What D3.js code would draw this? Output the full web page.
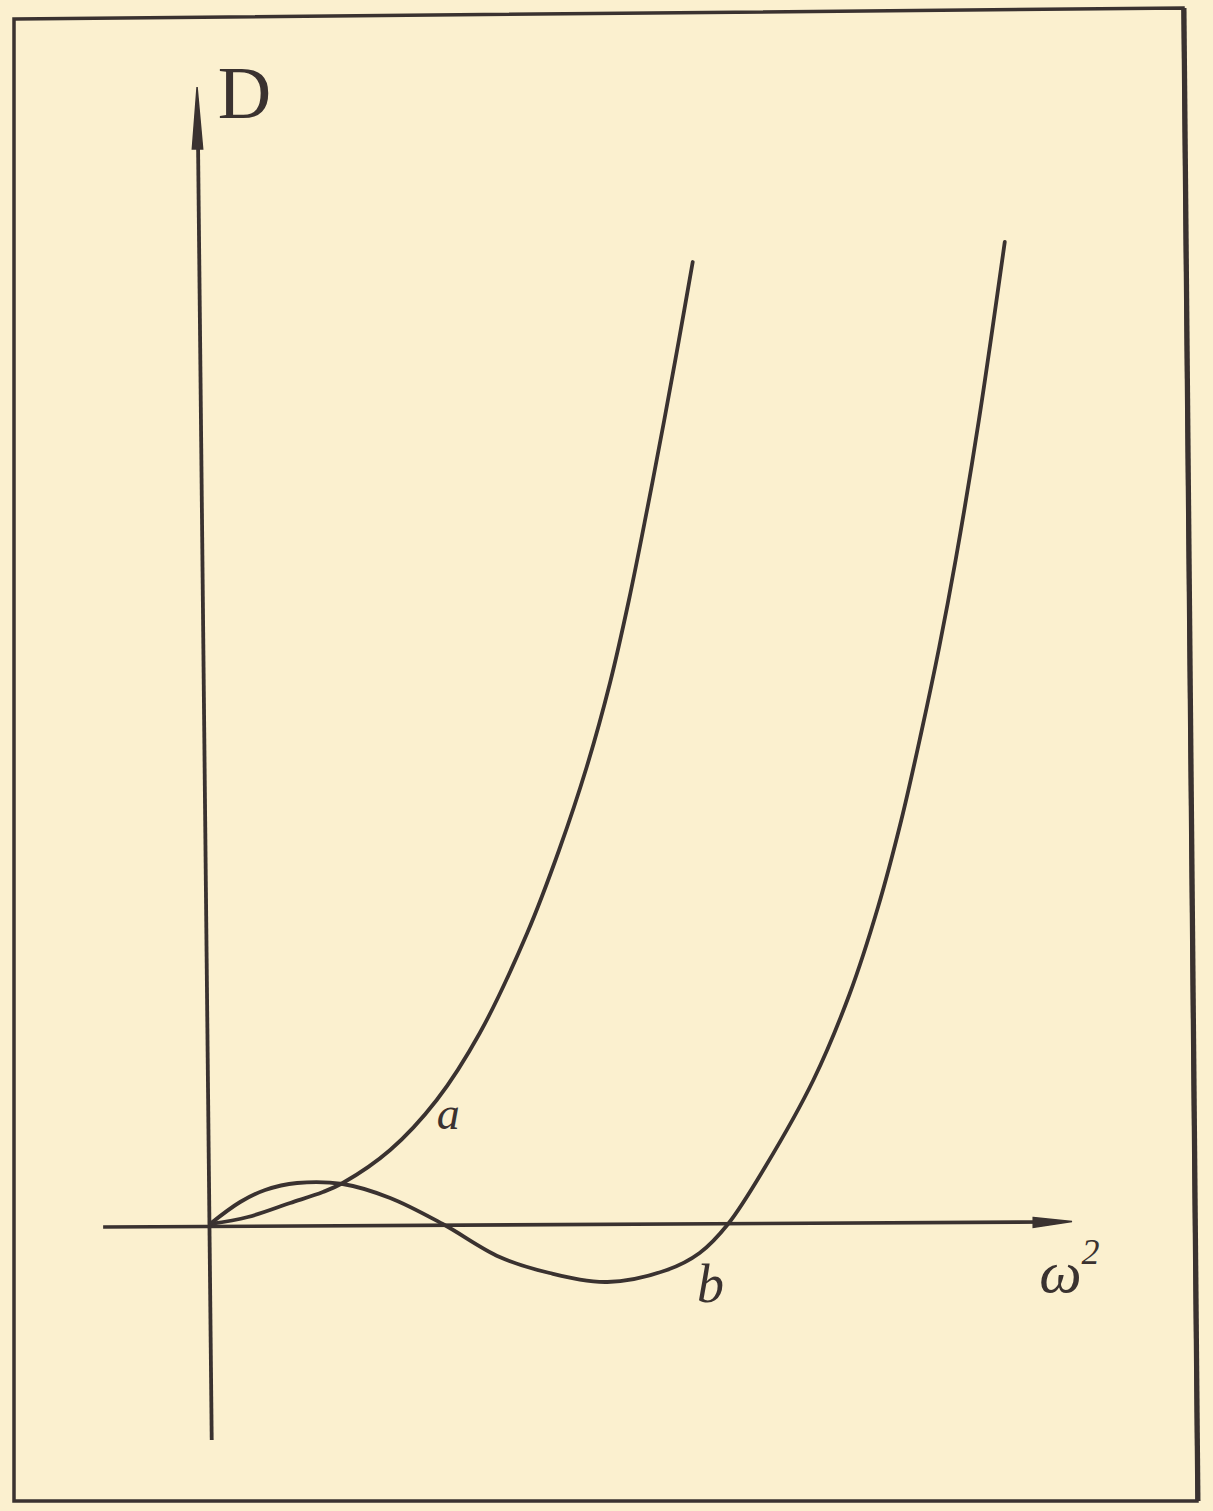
<!DOCTYPE html>
<html>
<head>
<meta charset="utf-8">
<script src="https://cdn.jsdelivr.net/npm/d3@7"></script>
<style>
  html, body { margin: 0; padding: 0; background: #fbf0cf; }
  svg { display: block; }
</style>
</head>
<body>
<script>
// ---- Data (x = ω², y = D, arbitrary units) ----
const curveAX = [0, 0.44, 0.93, 1.31, 1.54, 2.09, 2.63, 3.13, 3.68, 4.05, 4.37, 4.64, 4.86, 5.07, 5.27, 5.44, 5.60];
const curveAY = [0, 0.07, 0.21, 0.32, 0.41, 0.74, 1.24, 1.91, 2.91, 3.74, 4.57, 5.41, 6.24, 7.14, 8.04, 8.84, 9.62];

const curveBX = [0, 0.35, 0.64, 1.01, 1.54, 2.09, 2.70, 3.36, 3.94, 4.61, 5.30, 5.68, 6.01, 6.44, 7.00, 7.42, 7.75, 8.02, 8.25, 8.46, 8.65, 8.92, 9.22];
const curveBY = [0, 0.22, 0.34, 0.41, 0.40, 0.26, 0.00, -0.33, -0.49, -0.58, -0.46, -0.29, 0.00, 0.57, 1.44, 2.30, 3.17, 4.04, 4.91, 5.77, 6.64, 8.04, 9.82];

const axisLabels = { y: "D", x: "ω", xSup: "2" };
const curveLabels = ["a", "b"];
const curveLabelAt = [[2.63, 0.95], [5.65, -0.78]];

// ---- Layout ----
const W = 1213, H = 1511;
const ink = "#3a3230";

const svg = d3.select("body").append("svg")
  .attr("width", W).attr("height", H);

svg.append("rect").attr("width", W).attr("height", H).attr("fill", "#fbf0cf");

// Frame (slightly skewed like the scanned page)
svg.append("path")
  .attr("d", "M14,19 L1183,8 L1197,1501 L14,1501 Z")
  .attr("fill", "none").attr("stroke", ink).attr("stroke-width", 3.5);
svg.append("line")
  .attr("x1", 1184).attr("y1", 8).attr("x2", 1198).attr("y2", 1501)
  .attr("stroke", ink).attr("stroke-width", 5);

const x = d3.scaleLinear().domain([0, 10]).range([210, 1072]);
const y = d3.scaleLinear().domain([0, 10]).range([1224, 224]);

// horizontal axis (ω²)
svg.append("line")
  .attr("x1", x(-1.24)).attr("y1", y(-0.03))
  .attr("x2", x(9.7)).attr("y2", y(0.02))
  .attr("stroke", ink).attr("stroke-width", 3.6);
svg.append("path")
  .attr("d", `M${x(9.55)},${y(0.065)} L${x(10)},${y(0.025)} L${x(9.55)},${y(-0.035)} Z`)
  .attr("fill", ink).attr("stroke", ink).attr("stroke-width", 1.5);

// vertical axis (D)
svg.append("line")
  .attr("x1", x(0.02)).attr("y1", y(-2.16))
  .attr("x2", x(-0.14)).attr("y2", y(10.9))
  .attr("stroke", ink).attr("stroke-width", 3.8);
svg.append("path")
  .attr("d", `M${x(-0.205)},${y(10.75)} L${x(-0.15)},${y(11.37)} L${x(-0.085)},${y(10.75)} Z`)
  .attr("fill", ink).attr("stroke", ink).attr("stroke-width", 1.5);

// Curves
const line = d3.line()
  .x(d => x(d[0])).y(d => y(d[1]))
  .curve(d3.curveCatmullRom.alpha(0.5));

const dataA = curveAX.map((v, i) => [v, curveAY[i]]);
const dataB = curveBX.map((v, i) => [v, curveBY[i]]);

svg.append("path").datum(dataA)
  .attr("d", line).attr("fill", "none")
  .attr("stroke", ink).attr("stroke-width", 3.8).attr("stroke-linecap", "round");
svg.append("path").datum(dataB)
  .attr("d", line).attr("fill", "none")
  .attr("stroke", ink).attr("stroke-width", 3.8).attr("stroke-linecap", "round");

// Labels
const serif = "'Liberation Serif', 'DejaVu Serif', serif";
svg.append("text")
  .attr("x", x(0.09)).attr("y", y(11.06))
  .attr("font-family", serif).attr("font-size", 74)
  .attr("fill", ink).text(axisLabels.y);

const xl = svg.append("text")
  .attr("x", x(9.62)).attr("y", y(-0.68))
  .attr("font-family", serif).attr("font-style", "italic")
  .attr("font-size", 60).attr("fill", ink);
xl.append("tspan").text(axisLabels.x);
xl.append("tspan").attr("font-size", 36).attr("dy", -28).text(axisLabels.xSup);

curveLabels.forEach((t, i) => {
  svg.append("text")
    .attr("x", x(curveLabelAt[i][0])).attr("y", y(curveLabelAt[i][1]))
    .attr("font-family", serif).attr("font-style", "italic")
    .attr("font-size", i === 0 ? 46 : 54).attr("fill", ink)
    .text(t);
});
</script>
</body>
</html>
